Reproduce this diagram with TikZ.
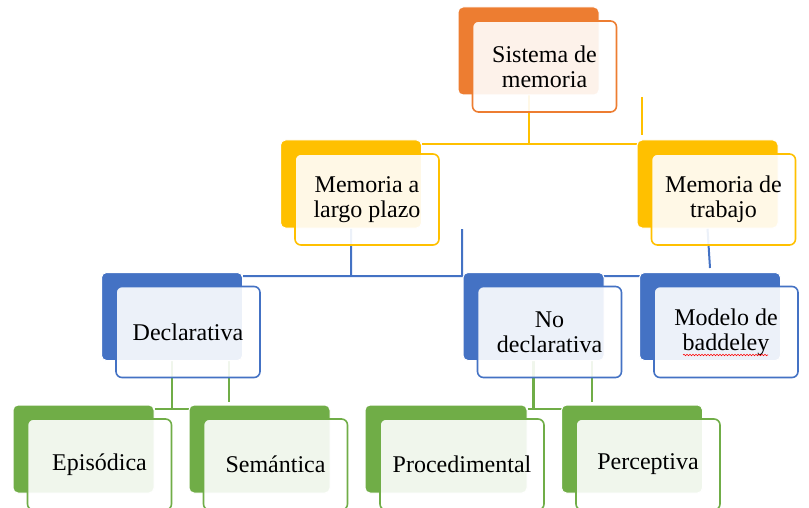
\documentclass[tikz,border=0pt]{standalone}
\usepackage{fontspec}
\setmainfont{Liberation Serif}
\usetikzlibrary{positioning,decorations.pathmorphing}
\definecolor{naranja}{HTML}{ED7D31}
\definecolor{amarillo}{HTML}{FFC000}
\definecolor{azul}{HTML}{4472C4}
\definecolor{verde}{HTML}{70AD47}
\pgfdeclarelayer{fondo}
\pgfsetlayers{fondo,main}

\begin{document}
\begin{tikzpicture}[x=1pt,y=-1pt]
\tikzstyle{atras}=[rectangle, rounded corners=5pt, draw=white, line width=1pt, minimum width=141pt, minimum height=88pt, inner sep=0pt]
\tikzstyle{caja}=[rectangle, rounded corners=6pt, line width=1.6pt, fill=white, fill opacity=0.9, text opacity=1, minimum width=144pt, minimum height=91pt, align=center, inner sep=0pt, font=\fontsize{24}{25}\selectfont]
\tikzstyle{enlace}=[line width=2pt]

\useasboundingbox (0,0) rectangle (809,508);

% nivel 1
\node[atras, fill=naranja] (fsis) at (528.5,51) {};
\node[caja, draw=naranja] (sis) at ([shift={(16,15.5)}]fsis.center) {Sistema de\\memoria};

% nivel 2
\node[atras, fill=amarillo] (flargo) at (351,184) {};
\node[caja, draw=amarillo] (largo) at ([shift={(16,15.5)}]flargo.center) {Memoria a\\largo plazo};
\node[atras, fill=amarillo] (ftrab) at (707.5,184) {};
\node[caja, draw=amarillo] (trab) at ([shift={(16,15.5)}]ftrab.center) {Memoria de\\trabajo};

% nivel 3
\node[atras, fill=azul] (fdecl) at (172,316.5) {};
\node[caja, draw=azul] (decl) at ([shift={(16,15.5)}]fdecl.center) {Declarativa};
\node[atras, fill=azul] (fnodecl) at (533.5,316.5) {};
\node[caja, draw=azul] (nodecl) at ([shift={(16,15.5)}]fnodecl.center) {No\\declarativa};
\node[atras, fill=azul] (fmod) at (710,316.5) {};
\node[caja, draw=azul] (mod) at ([shift={(16,15.5)}]fmod.center) {Modelo de\\baddeley};

% nivel 4
\node[atras, fill=verde] (fepi) at (83.5,449) {};
\node[caja, draw=verde] (epi) at ([shift={(16,15.5)}]fepi.center) {Episódica};
\node[atras, fill=verde] (fsem) at (259.5,449) {};
\node[caja, draw=verde] (sem) at ([shift={(16,15.5)}]fsem.center) {Semántica};
\node[atras, fill=verde, minimum width=162pt] (fproc) at (446,449) {};
\node[caja, draw=verde, minimum width=164pt] (proc) at ([shift={(16,15.5)}]fproc.center) {Procedimental};
\node[atras, fill=verde] (fperc) at (632,449) {};
\node[caja, draw=verde] (perc) at ([shift={(16,15.5)}]fperc.center) {Perceptiva};

\draw[red, line width=0.6pt, decorate, decoration={snake, amplitude=0.7pt, segment length=3pt}]
  ([shift={(-43,23)}]mod.center) -- ([shift={(42,23)}]mod.center);

\coordinate (bus1) at (0,144);
\coordinate (bus2) at (0,276);
\coordinate (bus3) at (0,409);
\coordinate (s1a) at (642,97);
\coordinate (s1b) at (642,135);
\coordinate (s2a) at (462,229);
\coordinate (s3a) at (229,360);
\coordinate (s3b) at (229,402);
\coordinate (s4a) at (592,360);
\coordinate (s4b) at (592,402);

\begin{pgfonlayer}{fondo}
\draw[enlace, amarillo] (fsis.south) -- (fsis.south |- bus1)
  (flargo.east |- bus1) -- (ftrab.center |- bus1)
  (s1a) -- (s1b);
\draw[enlace, azul] (flargo.south) -- (flargo.south |- bus2)
  (fdecl.east |- bus2) -- (fmod.center |- bus2)
  (s2a) -- (s2a |- bus2)
  (ftrab.south) -- ([yshift=4pt]fmod.north);
\draw[enlace, verde, line width=2.4pt] (fdecl.south) -- (fdecl.south |- bus3)
  (fepi.east |- bus3) -- (fsem.center |- bus3)
  (s3a) -- (s3b)
  (fnodecl.south) -- (fnodecl.south |- bus3)
  (fproc.east |- bus3) -- (fperc.center |- bus3)
  (s4a) -- (s4b);
\end{pgfonlayer}
\end{tikzpicture}
\end{document}
